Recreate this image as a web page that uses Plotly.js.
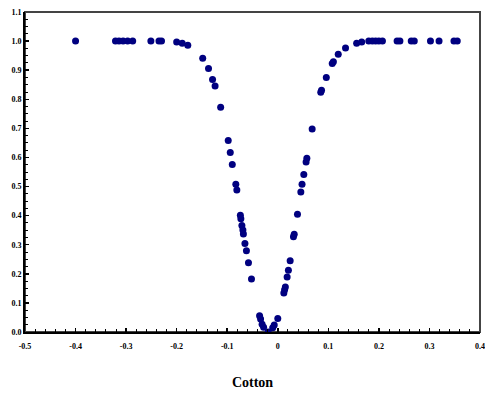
<!DOCTYPE html>
<html>
<head>
<meta charset="utf-8">
<script src="https://cdn.plot.ly/plotly-3.0.1.min.js"></script>
<style>html,body{margin:0;padding:0;background:#fff;}#chart{width:485px;height:393px;}</style>
</head>
<body>
<div id="chart"></div>
<script>
// Data
var cottonX = [
  -0.400, -0.321, -0.314, -0.306, -0.297, -0.287, -0.251, -0.235, -0.230,
  -0.200, -0.189, -0.178, -0.1485, -0.137, -0.129, -0.124, -0.113, -0.098,
  -0.094, -0.090, -0.083, -0.081, -0.074, -0.073, -0.071, -0.069, -0.068,
  -0.065, -0.062, -0.058, -0.052, -0.036, -0.034, -0.031, -0.028, -0.019,
  -0.010, -0.007, 0.000,
  0.012, 0.0135, 0.015, 0.0185, 0.021, 0.0245, 0.031, 0.0325, 0.039,
  0.0456, 0.048, 0.0515, 0.056, 0.0575, 0.068, 0.085, 0.0865, 0.096,
  0.1077, 0.110, 0.1196, 0.134, 0.156, 0.166, 0.180, 0.187, 0.1935,
  0.200, 0.207, 0.236, 0.2416, 0.264, 0.270, 0.302, 0.319, 0.3485, 0.355
];
var cottonY = [
  1.000, 1.000, 1.000, 1.000, 1.000, 1.000, 1.000, 1.000, 1.000,
  0.997, 0.993, 0.986, 0.941, 0.906, 0.868, 0.846, 0.773, 0.658,
  0.617, 0.576, 0.508, 0.488, 0.401, 0.389, 0.366, 0.351, 0.337,
  0.304, 0.279, 0.238, 0.182, 0.056, 0.045, 0.027, 0.016, 0.000,
  0.015, 0.024, 0.046,
  0.134, 0.145, 0.155, 0.189, 0.212, 0.245, 0.327, 0.336, 0.405,
  0.481, 0.508, 0.541, 0.584, 0.597, 0.698, 0.824, 0.831, 0.875,
  0.923, 0.929, 0.955, 0.976, 0.993, 0.997, 1.000, 1.000, 1.000,
  1.000, 1.000, 1.000, 1.000, 1.000, 1.000, 1.000, 1.000, 1.000, 1.000
];
var xTickVals = [-0.5, -0.4, -0.3, -0.2, -0.1, 0, 0.1, 0.2, 0.3, 0.4];
var xTickText = ["-0.5", "-0.4", "-0.3", "-0.2", "-0.1", "0", "0.1", "0.2", "0.3", "0.4"];
var xTitle = "Cotton";

var serif = "Liberation Serif, Times New Roman, serif";

var trace = {
  x: cottonX,
  y: cottonY,
  type: "scatter",
  mode: "markers",
  marker: {color: "#000080", size: 7, line: {width: 0}},
  hoverinfo: "x+y",
  showlegend: false
};

var layout = {
  width: 485,
  height: 393,
  margin: {l: 25, r: 5, t: 12, b: 61},
  paper_bgcolor: "#ffffff",
  plot_bgcolor: "#ffffff",
  font: {family: serif, color: "#000000", size: 8, weight: "bold"},
  showlegend: false,
  xaxis: {
    range: [-0.5, 0.4],
    tickmode: "array",
    tickvals: xTickVals,
    ticktext: xTickText,
    ticks: "inside",
    ticklen: 4,
    tickwidth: 1.5,
    tickcolor: "#000",
    showline: true,
    linecolor: "#000",
    linewidth: 2,
    showgrid: false,
    zeroline: false,
    tickfont: {family: serif, size: 8, color: "#000", weight: "bold"},
    ticklabelstandoff: 5,
    minor: {dtick: 0.02, tick0: -0.5, ticks: "inside", ticklen: 3, tickwidth: 1, tickcolor: "#000", showgrid: false},
    title: {text: xTitle, font: {family: serif, size: 14, color: "#000", weight: "bold"}, standoff: 28},
    automargin: false
  },
  yaxis: {
    range: [0, 1.1],
    dtick: 0.1,
    tick0: 0,
    tickformat: ".1f",
    ticks: "inside",
    ticklen: 4,
    tickwidth: 1.5,
    tickcolor: "#000",
    showline: true,
    linecolor: "#000",
    linewidth: 2,
    showgrid: false,
    zeroline: false,
    tickfont: {family: serif, size: 8, color: "#000", weight: "bold"},
    minor: {dtick: 0.025, tick0: 0, ticks: "inside", ticklen: 3, tickwidth: 1, tickcolor: "#000", showgrid: false},
    automargin: false
  },
  shapes: [{
    type: "rect", xref: "paper", yref: "paper", x0: 0, x1: 1, y0: 0, y1: 1,
    line: {color: "#444444", width: 2}, layer: "below"
  }]
};

Plotly.newPlot("chart", [trace], layout, {displayModeBar: false, staticPlot: true});
</script>
</body>
</html>
